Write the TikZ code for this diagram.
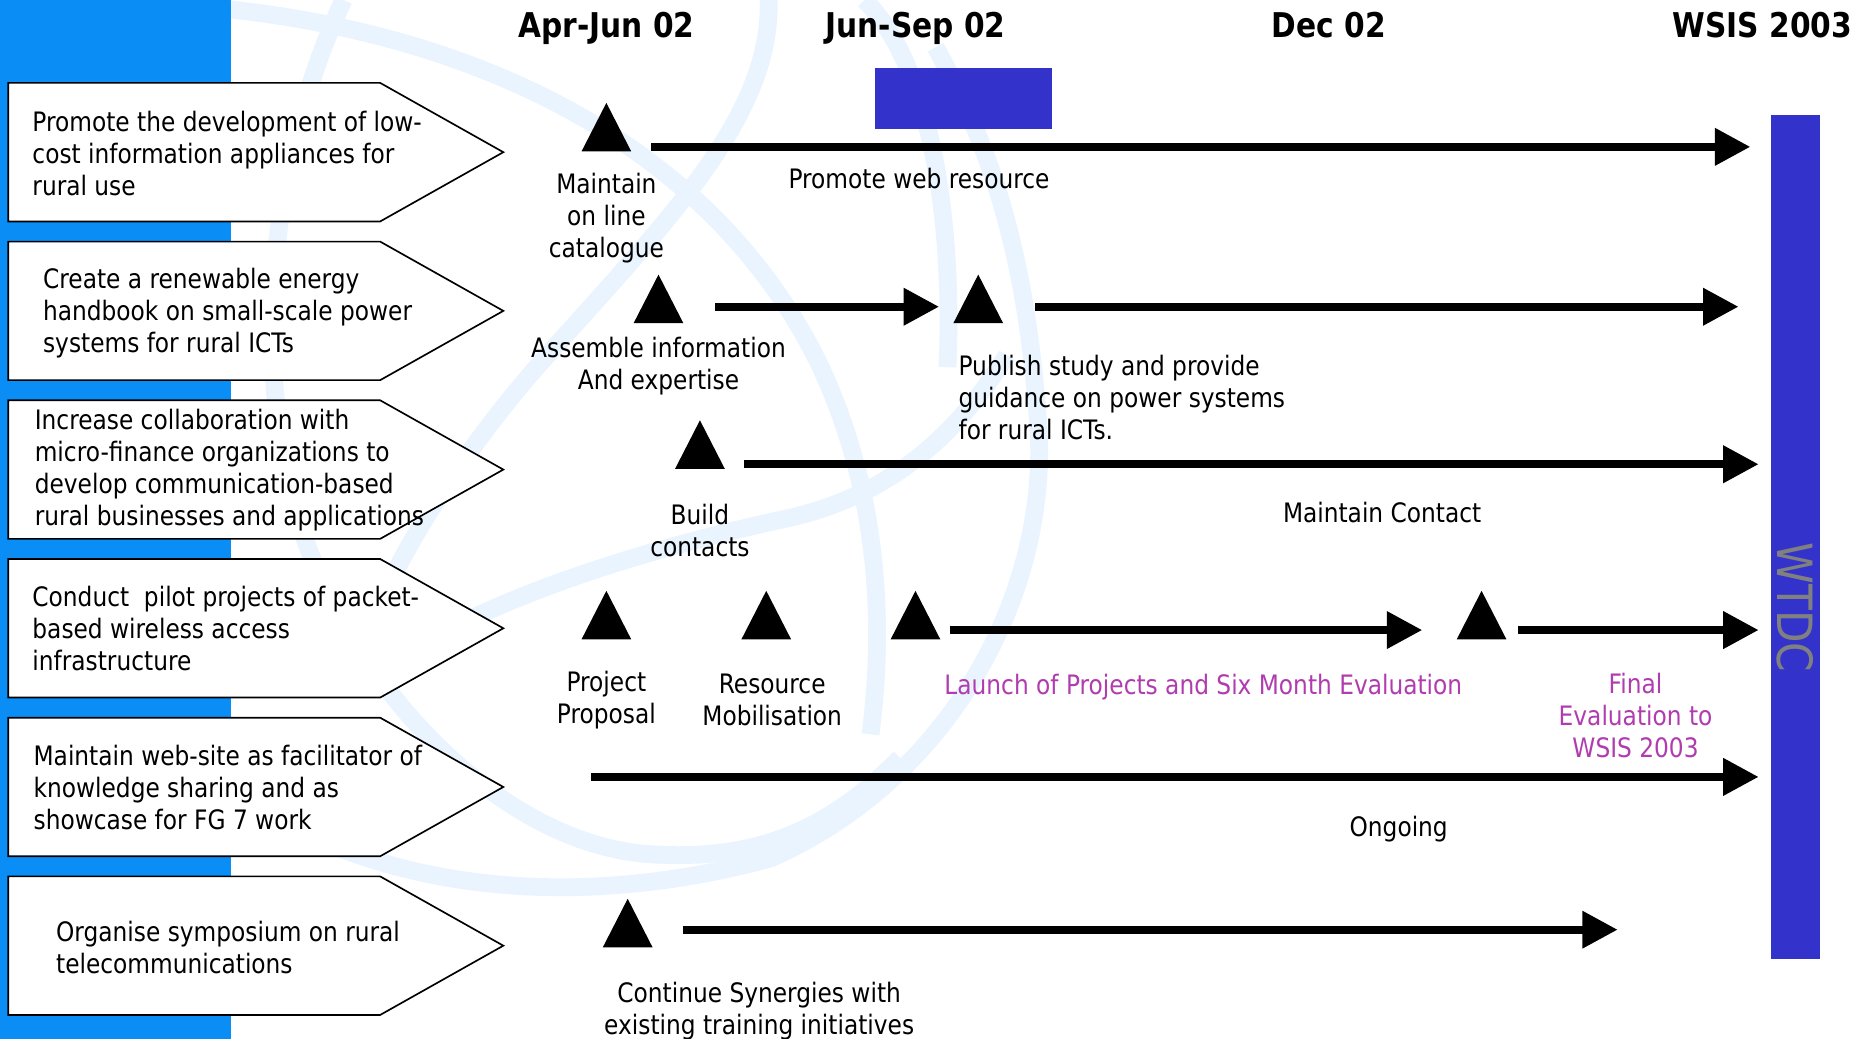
\documentclass[tikz,border=0pt]{standalone}
\usepackage{fontspec}
\setmainfont{DejaVu Sans}[FakeStretch=0.87]
\usetikzlibrary{positioning, arrows.meta, shapes.geometric}

\definecolor{stripblue}{RGB}{10,142,246}
\definecolor{barblue}{RGB}{51,51,204}
\definecolor{globeblue}{RGB}{233,244,254}
\definecolor{evalpink}{RGB}{176,60,176}
\definecolor{wtdcgrey}{RGB}{128,128,128}

\begin{document}
\begin{tikzpicture}[x=0.5pt, y=-0.5pt]
\tikzset{
    every node/.style={align=center, inner sep=0pt, font=\fontsize{11.3}{13.5}\selectfont},
    goal/.style={draw=black, line width=0.7pt, fill=white},
    goaltext/.style={anchor=west, align=left},
    period/.style={anchor=base, font=\fontsize{14.4}{17}\selectfont\bfseries},
    milestone/.style={isosceles triangle, isosceles triangle apex angle=54,
        isosceles triangle stretches, shape border rotate=90, fill=black,
        minimum width=21pt, minimum height=20.5pt, anchor=apex},
    flow/.style={line width=3.5pt, -{Triangle[length=15pt, width=15pt]}},
    eval/.style={text=evalpink},
    orbit/.style={globeblue, line width=7.5pt}
}

\useasboundingbox (0,0) rectangle (1568,877);
\fill[white] (0,0) rectangle (1568,877);

% faint globe in the background
\draw[orbit] (194,8) .. controls (400,30) and (600,120) .. (692,308)
    .. controls (740,410) and (748,520) .. (735,620);
\draw[orbit] (649,0) .. controls (652,100) and (560,190) .. (455,308)
    .. controls (400,370) and (330,470) .. (300,560);
\draw[orbit] (290,0) .. controls (220,150) and (215,330) .. (256,451)
    .. controls (300,580) and (420,710) .. (545,721)
    .. controls (640,728) and (700,700) .. (760,640);
\draw[orbit] (260,705) .. controls (380,760) and (520,760) .. (650,725)
    .. controls (800,660) and (890,500) .. (876,350)
    .. controls (866,220) and (840,130) .. (790,40);
\draw[orbit] (730,0) .. controls (790,60) and (805,200) .. (800,310);
\draw[orbit] (330,560) .. controls (420,500) and (560,460) .. (668,437)
    .. controls (740,420) and (800,380) .. (850,300);

% left strip
\fill[stripblue] (0,0) rectangle (195,877);

% goal boxes
\foreach \y in {70,204,338,472,606,740}
    \draw[goal] (7,\y) -- (321,\y) -- (425,\y+58.5) -- (321,\y+117) -- (7,\y+117) -- cycle;

\node[goaltext] (g1) at (27,130) {Promote the development of low-\\cost information appliances for\\rural use};
\node[goaltext] (g2) at (36,264) {Create a renewable energy\\handbook on small-scale power\\systems for rural ICTs};
\node[goaltext] (g3) at (29,397) {Increase collaboration with\\micro-finance organizations to\\develop communication-based\\rural businesses and applications};
\node[goaltext] (g4) at (27,531) {Conduct\ \ pilot projects of packet-\\based wireless access\\infrastructure};
\node[goaltext] (g5) at (28,665) {Maintain web-site as facilitator of\\knowledge sharing and as\\showcase for FG 7 work};
\node[goaltext] (g6) at (47,800) {Organise symposium on rural\\telecommunications};

% periods
\node[period] (p1) at (512,31.5) {Apr-Jun 02};
\node[period] (p2) at (773,31.5) {Jun-Sep 02};
\node[period] (p3) at (1122,31.5) {Dec 02};
\node[period] (p4) at (1488,31.5) {WSIS 2003};

\fill[barblue] (739,57) rectangle (888,109);
\fill[barblue] (1495,97) rectangle (1537,810);
\node[text=wtdcgrey, rotate=-90, font=\fontsize{20.5}{24}\selectfont] (wtdc) at (1516,513) {WTDC};

% row 1
\node[milestone] (m11) at (512,86) {};
\coordinate (s1) at (550,124);
\coordinate (e1) at (1478,124);
\draw[flow] (s1) -- (e1);
\node (l11) at (512,184) {Maintain\\on line\\catalogue};
\node (l12) at (776,151) {Promote web resource};

% row 2
\node[milestone] (m21) at (556,231) {};
\node[milestone] (m22) at (826,231) {};
\coordinate (s21) at (604,259);
\coordinate (e21) at (793,259);
\coordinate (s22) at (874,259);
\coordinate (e22) at (1468,259);
\draw[flow] (s21) -- (e21);
\draw[flow] (s22) -- (e22);
\node (l21) at (556,309) {Assemble information\\And expertise};
\node[anchor=west, align=left] (l22) at (809,336) {Publish study and provide\\guidance on power systems\\for rural ICTs.};

% row 3
\node[milestone] (m31) at (591,354) {};
\coordinate (s3) at (628,392);
\coordinate (e3) at (1485,392);
\draw[flow] (s3) -- (e3);
\node (l31) at (591,448) {Build\\contacts};
\node (l32) at (1167,433) {Maintain Contact};

% row 4
\node[milestone] (m41) at (512,498) {};
\node[milestone] (m42) at (647,498) {};
\node[milestone] (m43) at (773,498) {};
\node[milestone] (m44) at (1251,498) {};
\coordinate (s41) at (802,532);
\coordinate (e41) at (1201,532);
\coordinate (s42) at (1282,532);
\coordinate (e42) at (1485,532);
\draw[flow] (s41) -- (e41);
\draw[flow] (s42) -- (e42);
\node (l41) at (512,591) {Project\\Proposal};
\node (l42) at (652,591) {Resource\\Mobilisation};
\node[eval] (l43) at (1016,580) {Launch of Projects and Six Month Evaluation};
\node[eval] (l44) at (1381,604) {Final\\Evaluation to\\WSIS 2003};

% row 5
\coordinate (s5) at (499,656);
\coordinate (e5) at (1485,656);
\draw[flow] (s5) -- (e5);
\node (l5) at (1181,700) {Ongoing};

% row 6
\node[milestone] (m61) at (530,758) {};
\coordinate (s6) at (577,785);
\coordinate (e6) at (1366,785);
\draw[flow] (s6) -- (e6);
\node (l6) at (641,854) {Continue Synergies with\\existing training initiatives};
\end{tikzpicture}
\end{document}
